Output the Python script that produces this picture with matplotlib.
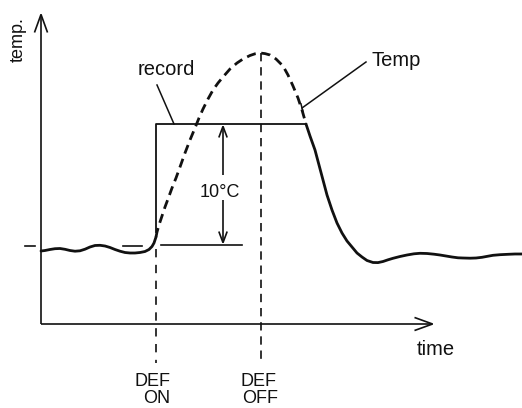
import matplotlib
matplotlib.use("Agg")
import matplotlib.pyplot as plt
from matplotlib.patches import FancyArrowPatch

plt.rcParams['font.family'] = ['Liberation Sans', 'DejaVu Sans']

# Schematic, in picture pixel units (y grows downward)
# temperature before defrost (solid wiggle)
base_x = [41, 45, 50, 55, 60, 65, 70, 75, 80, 85, 90, 95, 100, 105, 110,
          115, 120, 125, 130, 135, 140, 145, 149, 152, 154, 156]
base_y = [251, 250.5, 249.5, 248.7, 248.5, 249.3, 250.5, 251.2, 250.8, 249.2,
          247, 245.5, 245.3, 246, 247.5, 249.5, 251.2, 252.5, 253, 253, 252.5,
          251.5, 249.5, 246.5, 243, 237]

# temperature rise while defrosting (dashed, hidden from the record)
rise_x = [156, 157, 159, 162, 165, 168, 172, 176, 180, 185, 190, 195, 199,
          203, 208, 213, 218, 223, 230, 237, 243, 250, 255, 260, 265, 270,
          276, 283, 288, 293, 298, 302, 306]
rise_y = [237, 232, 225, 216, 207, 199, 188, 178, 167, 153, 140, 128, 118,
          109, 99, 90, 83, 77, 69, 63, 59, 55.5, 53.8, 53, 53.6, 55,
          59, 66, 75, 86, 98, 110, 124]

# temperature fall after defrost (solid, record follows it)
fall_x = [306, 310, 315, 319, 323, 327, 332, 337, 342, 347, 352, 357, 362,
          367, 373, 378, 383, 388, 393, 400, 407, 414, 420, 427, 434, 440,
          446, 452, 458, 463, 470, 476, 482, 488, 493, 500, 508, 515, 522]
fall_y = [124, 136, 150, 165, 180, 195, 210, 223, 233, 241, 247, 253, 257,
          260.5, 262.5, 262.6, 261.5, 259.8, 258.3, 256.5, 255, 253.8, 253.3,
          253.5, 254.2, 255, 256, 257, 257.8, 258, 258.2, 258, 257.3, 256.2,
          255.3, 254.7, 254.3, 254, 254]

# recorded value held during defrost
record_x = [156, 156, 306]
record_y = [232, 124, 124]

def_on_x = 156
def_off_x = 261
level_low = 245
level_high = 124

fig = plt.figure(figsize=(5.22, 4.08), dpi=100)
ax = fig.add_axes([0, 0, 1, 1])
ax.set_xlim(0, 522)
ax.set_ylim(408, 0)
ax.axis('off')

ink = '#111111'


def arrow(p0, p1, hl, hw, lw=1.2):
    a = FancyArrowPatch(p0, p1, arrowstyle=f'->,head_length={hl},head_width={hw}',
                        mutation_scale=10, shrinkA=0, shrinkB=0,
                        color=ink, lw=lw, joinstyle='miter', capstyle='butt')
    ax.add_patch(a)


# axes
arrow((41, 324), (41, 12), 1.3, 0.47)
arrow((41, 324), (435, 324), 1.3, 0.47)

# curves
ax.plot(base_x, base_y, color=ink, lw=2.0, solid_capstyle='round',
        solid_joinstyle='round')
ax.plot(rise_x, rise_y, color=ink, lw=2.0, dashes=(3.3, 2.0))
ax.plot(fall_x, fall_y, color=ink, lw=2.0, solid_capstyle='round',
        solid_joinstyle='round')
ax.plot(record_x, record_y, color=ink, lw=1.3)

# reference level marks
ax.plot([25, 35], [246, 246], color=ink, lw=1.2)
ax.plot([123, 142], [246, 246], color=ink, lw=1.2)
ax.plot([161, 242], [level_low, level_low], color=ink, lw=1.2)

# defrost on / off markers
ax.plot([def_on_x, def_on_x], [249, 363], color=ink, lw=1.2, dashes=(5, 4.5))
ax.plot([def_off_x, def_off_x], [53, 363], color=ink, lw=1.2, dashes=(5, 3.5))

# 10 degC dimension
arrow((223, 175), (223, level_high), 0.8, 0.3)
arrow((223, 200), (223, level_low), 0.8, 0.3)

# leaders
ax.plot([157, 174], [85, 124], color=ink, lw=1.1)
ax.plot([366, 302], [62, 108], color=ink, lw=1.1)
ax.plot([301, 303], [104, 112], color=ink, lw=1.1)

ax.text(23, 40, 'temp.', rotation=90, rotation_mode='anchor', ha='center',
        va='baseline', fontsize=13, color=ink)
ax.text(166, 75, 'record', ha='center', va='baseline', fontsize=14.5, color=ink)
ax.text(396, 66, 'Temp', ha='center', va='baseline', fontsize=14.5, color=ink)
ax.text(220, 197, '10°C', ha='center', va='baseline', fontsize=13, color=ink)
ax.text(436, 355, 'time', ha='center', va='baseline', fontsize=14.5, color=ink)
ax.text(152, 386, 'DEF', ha='center', va='baseline', fontsize=13, color=ink)
ax.text(157, 403, 'ON', ha='center', va='baseline', fontsize=13, color=ink)
ax.text(258, 386, 'DEF', ha='center', va='baseline', fontsize=13, color=ink)
ax.text(260, 403, 'OFF', ha='center', va='baseline', fontsize=13, color=ink)

fig.savefig('out.png', dpi=100, facecolor='white')
